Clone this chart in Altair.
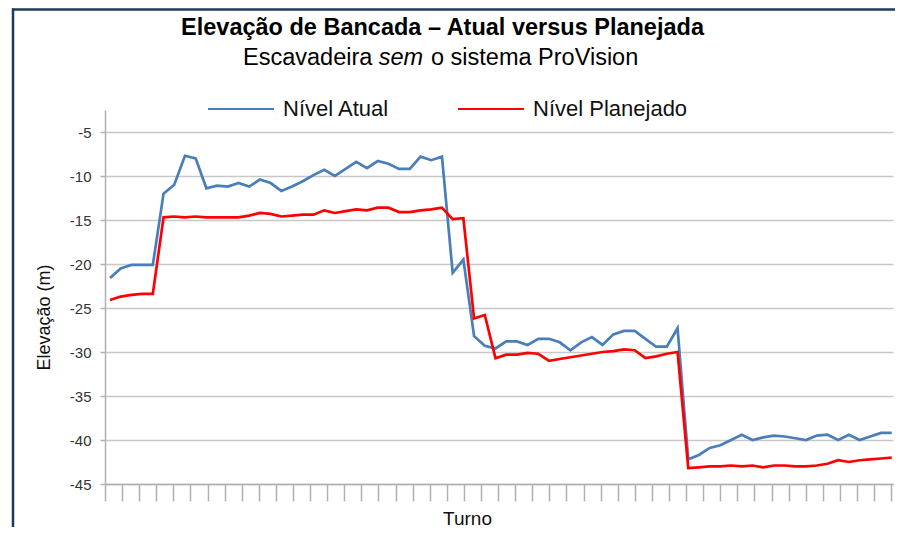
import altair as alt
import pandas as pd
import numpy as np

TITLE = "Elevação de Bancada – Atual versus Planejada"
SUB_1 = "Escavadeira"
SUB_2 = "sem"
SUB_3 = "o sistema ProVision"
SERIES = ["Nível Atual", "Nível Planejado"]
COLORS = ["#4A7EBB", "#FF0000"]
Y_TITLE = "Elevação (m)"
X_TITLE = "Turno"
Y_TICKS = [-5, -10, -15, -20, -25, -30, -35, -40, -45]

nivel_atual = [
    -21.6, -20.5, -20.1, -20.1, -20.1, -12.0, -11.0, -7.7, -8.0, -11.4,
    -11.1, -11.2, -10.8, -11.2, -10.4, -10.8, -11.7, -11.2, -10.6, -9.9,
    -9.3, -10.0, -9.2, -8.4, -9.1, -8.3, -8.6, -9.2, -9.2, -7.8,
    -8.2, -7.8, -21.0, -19.5, -28.2, -29.3, -29.6, -28.8, -28.8, -29.2,
    -28.5, -28.5, -28.9, -29.8, -28.9, -28.3, -29.2, -28.0, -27.6, -27.6,
    -28.5, -29.4, -29.4, -27.3, -42.2, -41.7, -40.9, -40.6, -40.0, -39.4,
    -40.0, -39.7, -39.5, -39.6, -39.8, -40.0, -39.5, -39.4, -40.0, -39.4,
    -40.0, -39.6, -39.2, -39.2,
]
nivel_planejado = [
    -24.1, -23.7, -23.5, -23.4, -23.4, -14.7, -14.6, -14.7, -14.6, -14.7,
    -14.7, -14.7, -14.7, -14.5, -14.2, -14.3, -14.6, -14.5, -14.4, -14.4,
    -13.9, -14.2, -14.0, -13.8, -13.9, -13.6, -13.6, -14.1, -14.1, -13.9,
    -13.8, -13.6, -14.9, -14.8, -26.2, -25.8, -30.7, -30.3, -30.3, -30.1,
    -30.2, -31.0, -30.8, -30.6, -30.4, -30.2, -30.0, -29.9, -29.7, -29.8,
    -30.7, -30.5, -30.2, -30.0, -43.2, -43.1, -43.0, -43.0, -42.9, -43.0,
    -42.9, -43.1, -42.9, -42.9, -43.0, -43.0, -42.9, -42.7, -42.3, -42.5,
    -42.3, -42.2, -42.1, -42.0,
]

n = len(nivel_atual)
df = pd.DataFrame({
    "Turno": list(range(n)) * 2,
    "Elevação": nivel_atual + nivel_planejado,
    "Série": [SERIES[0]] * n + [SERIES[1]] * n,
})

W, H = 788, 374
X_DOM = [-0.467, 73.12]
x_ticks = [float(v) for v in np.linspace(X_DOM[0], X_DOM[0] + 46 * 1.596, 47)]
FONT = "Liberation Sans"

lines = alt.Chart(df).mark_line(clip=False, strokeWidth=2.7).encode(
    x=alt.X("Turno:Q",
            scale=alt.Scale(domain=X_DOM, nice=False, zero=False),
            axis=alt.Axis(values=x_ticks, labels=False, grid=False,
                          tickSize=17, tickColor="#b0b0b0", tickWidth=1.5,
                          domainColor="#b0b0b0", domainWidth=1.5,
                          title=X_TITLE, titleFont=FONT, titleFontSize=19,
                          titleFontWeight="normal", titleColor="#111111",
                          titleX=362, titleY=40, titleAlign="center",
                          titleBaseline="alphabetic")),
    y=alt.Y("Elevação:Q",
            scale=alt.Scale(domain=[-45, -2.5], nice=False, zero=False),
            axis=alt.Axis(values=Y_TICKS, grid=True, gridColor="#c8c8c8",
                          gridWidth=1.5, tickSize=5, tickColor="#b0b0b0",
                          tickWidth=1.5, domainColor="#b0b0b0", domainWidth=1.5,
                          labelFont=FONT, labelFontSize=15, labelColor="#333333",
                          labelPadding=9, labelExpr="datum.value + ''",
                          title=Y_TITLE, titleFont=FONT, titleFontSize=18,
                          titleFontWeight="normal", titleColor="#111111",
                          titleAngle=270, titleX=-61, titleY=207,
                          titleAlign="center", titleBaseline="middle")),
    color=alt.Color("Série:N",
                    scale=alt.Scale(domain=SERIES, range=COLORS),
                    legend=alt.Legend(orient="none", legendX=102, legendY=-35,
                                      direction="horizontal", title=None,
                                      symbolType="stroke", symbolSize=4356,
                                      symbolStrokeWidth=2, labelFont=FONT,
                                      labelFontSize=22, labelColor="#111111",
                                      labelOffset=8, columnPadding=64,
                                      labelLimit=300, padding=0)),
)

title = alt.Chart(alt.Data(values=[{"t": TITLE}])).mark_text(
    font=FONT, fontSize=23.5, fontWeight="bold", color="#000000",
    align="center", baseline="alphabetic", clip=False,
).encode(text="t:N", x=alt.value(337.5), y=alt.value(-75))

sub1 = alt.Chart(alt.Data(values=[{"t": SUB_1}])).mark_text(
    font=FONT, fontSize=23.5, color="#000000",
    align="left", baseline="alphabetic", clip=False,
).encode(text="t:N", x=alt.value(138), y=alt.value(-45))

sub2 = alt.Chart(alt.Data(values=[{"t": SUB_2}])).mark_text(
    font=FONT, fontSize=23.5, fontStyle="italic", color="#000000",
    align="left", baseline="alphabetic", clip=False,
).encode(text="t:N", x=alt.value(273.8), y=alt.value(-45))

sub3 = alt.Chart(alt.Data(values=[{"t": SUB_3}])).mark_text(
    font=FONT, fontSize=23.5, color="#000000",
    align="left", baseline="alphabetic", clip=False,
).encode(text="t:N", x=alt.value(326), y=alt.value(-45))

frame_top = alt.Chart(alt.Data(values=[{"k": 1}])).mark_rule(
    stroke="#1F3A5F", strokeWidth=2.5, clip=False,
).encode(x=alt.value(-93), x2=alt.value(790), y=alt.value(-100.5))

frame_left = alt.Chart(alt.Data(values=[{"k": 1}])).mark_rule(
    stroke="#1F3A5F", strokeWidth=2.5, clip=False,
).encode(x=alt.value(-92), y=alt.value(-101.5), y2=alt.value(420))

chart = alt.layer(frame_top, frame_left, lines, title, sub1, sub2, sub3).properties(
    width=W, height=H,
    padding={"left": 97, "top": 102, "right": 2, "bottom": 43},
    autosize=alt.AutoSizeParams(type="none"),
    background="white",
).configure_view(stroke=None)

chart.save("out.html", embed_options={"renderer": "svg", "actions": False})
